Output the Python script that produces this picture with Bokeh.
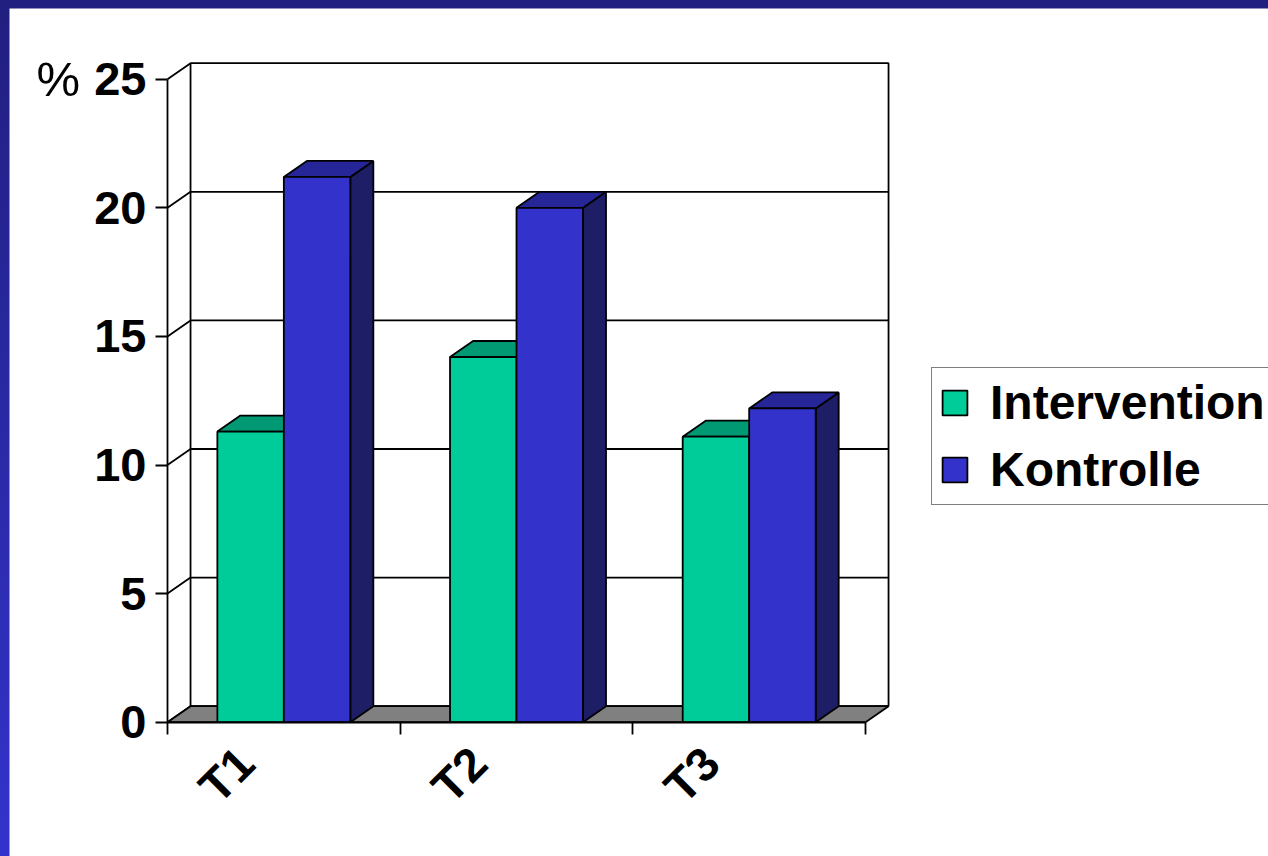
import math

from bokeh.core.properties import value
from bokeh.embed import file_html
from bokeh.layouts import column
from bokeh.models import (FixedTicker, Label, Legend, LegendItem, LinearAxis,
                          Range1d)
from bokeh.plotting import figure
from bokeh.resources import INLINE

# ---- data -------------------------------------------------------------
categories = ["T1", "T2", "T3"]
series_names = ["Intervention", "Kontrolle"]
intervention = [11.3, 14.2, 11.1]
kontrolle = [21.2, 20.0, 12.2]
y_ticks = [0, 5, 10, 15, 20, 25]
y_top = 25

series_values = [intervention, kontrolle]

# ---- styling ------------------------------------------------------------
front_colors = ["#00CC99", "#3333CC"]
top_colors = ["#009973", "#262699"]
side_colors = ["#006B52", "#1E1E66"]
floor_color = "#808080"
FONT = "Liberation Sans"
FS = "47px"
LW = 1.8

DX, DY = 0.099, 0.622          # depth of the 3-D box, in data units
GAP = 1.5                       # gap width relative to one bar
n_cat = len(categories)
bar_w = 1.0 / (len(series_names) + GAP)

# canvas geometry: pixels per category / per percent, and where the origin sits
W, H = 1259, 848
PX_CAT, PX_UNIT = 232.67, 25.72
ORIGIN_X, ORIGIN_Y = 158, 713.7     # from the canvas' left / top edge

p = figure(width=W, height=H, title=None,
           x_range=Range1d(-ORIGIN_X / PX_CAT, (W - ORIGIN_X) / PX_CAT),
           y_range=Range1d(-(H - ORIGIN_Y) / PX_UNIT, ORIGIN_Y / PX_UNIT),
           output_backend="svg", toolbar_location=None,
           x_axis_type=None, y_axis_type=None, min_border=0,
           background_fill_color="white", border_fill_color="white",
           outline_line_color=None)
p.margin = (8, 0, 0, 9)
p.xgrid.visible = False
p.ygrid.visible = False

# back wall
p.patch([DX, n_cat + DX, n_cat + DX, DX], [DY, DY, y_top + DY, y_top + DY],
        fill_color="white", line_color="black", line_width=LW)
# gridlines on the back wall
inner = [t for t in y_ticks if 0 < t < y_top]
p.multi_line([[DX, n_cat + DX] for _ in inner], [[t + DY, t + DY] for t in inner],
             line_color="black", line_width=LW)
# gridlines on the left side wall
p.multi_line([[0, DX] for _ in y_ticks], [[t, t + DY] for t in y_ticks],
             line_color="black", line_width=LW)
# floor
p.patch([0, n_cat, n_cat + DX, DX], [0, 0, DY, DY],
        fill_color=floor_color, line_color="black", line_width=LW)

# bars: sides, tops and fronts for each series, left series first
front_renderers = []
for j, vals in enumerate(series_values):
    fx, fy, sx, sy, tx, ty = [], [], [], [], [], []
    for i, v in enumerate(vals):
        x0 = i + GAP * bar_w / 2 + j * bar_w
        x1 = x0 + bar_w
        fx.append([x0, x1, x1, x0]); fy.append([0, 0, v, v])
        sx.append([x1, x1 + DX, x1 + DX, x1]); sy.append([0, DY, v + DY, v])
        tx.append([x0, x1, x1 + DX, x0 + DX]); ty.append([v, v, v + DY, v + DY])
    p.patches(sx, sy, fill_color=side_colors[j], line_color="black", line_width=LW)
    p.patches(tx, ty, fill_color=top_colors[j], line_color="black", line_width=LW)
    r = p.patches(fx, fy, fill_color=front_colors[j], line_color="black", line_width=LW)
    front_renderers.append(r)

# value axis, pinned at x = 0
yaxis = LinearAxis(ticker=FixedTicker(ticks=y_ticks, minor_ticks=[]), bounds=(0, y_top),
                   fixed_location=0,
                   axis_line_color="black", axis_line_width=LW,
                   major_tick_line_color="black", major_tick_line_width=LW,
                   major_tick_out=12, major_tick_in=0,
                   minor_tick_line_color=None,
                   major_label_standoff=9,
                   major_label_text_font=FONT, major_label_text_font_style="bold",
                   major_label_text_font_size=FS, major_label_text_color="black")
p.add_layout(yaxis, "left")

# category axis, pinned at y = 0 (tick marks between the groups)
xaxis = LinearAxis(ticker=FixedTicker(ticks=[], minor_ticks=list(range(n_cat + 1))),
                   bounds=(0, n_cat), fixed_location=0,
                   axis_line_color="black", axis_line_width=LW,
                   major_tick_line_color=None,
                   minor_tick_line_color="black", minor_tick_line_width=LW,
                   minor_tick_out=12, minor_tick_in=0,
                   major_label_text_font_size="0px")
p.add_layout(xaxis, "below")

# rotated category names under each group
cat_pos = [i + 0.5 for i in range(n_cat)]
p.text(x=cat_pos, y=[0] * n_cat, text=categories, angle=math.pi / 4,
       x_offset=-38, y_offset=33, text_align="right", text_baseline="middle",
       text_font=value(FONT), text_font_style="bold", text_font_size=FS,
       text_color="black")

# unit label
p.add_layout(Label(x=0, y=y_top, x_offset=-131, text="%", text_align="left",
                   text_baseline="middle", text_font=FONT, text_font_size="49px",
                   text_color="black"))

legend = Legend(items=[LegendItem(label=name, renderers=[r], index=0)
                       for name, r in zip(series_names, front_renderers)],
                location=(922, 351), margin=0, padding=7, spacing=12,
                glyph_width=31, glyph_height=31, label_standoff=20,
                label_text_font=FONT, label_text_font_style="bold",
                label_text_font_size="48px", label_text_color="black",
                border_line_color="black", border_line_width=1.4,
                background_fill_color="white", background_fill_alpha=1)
p.add_layout(legend)

page = column(p, width=1268, height=856,
              styles={"background": "linear-gradient(to bottom, #211F7F, #3333CC)"})

open("out.html", "w").write(file_html(page, INLINE))
